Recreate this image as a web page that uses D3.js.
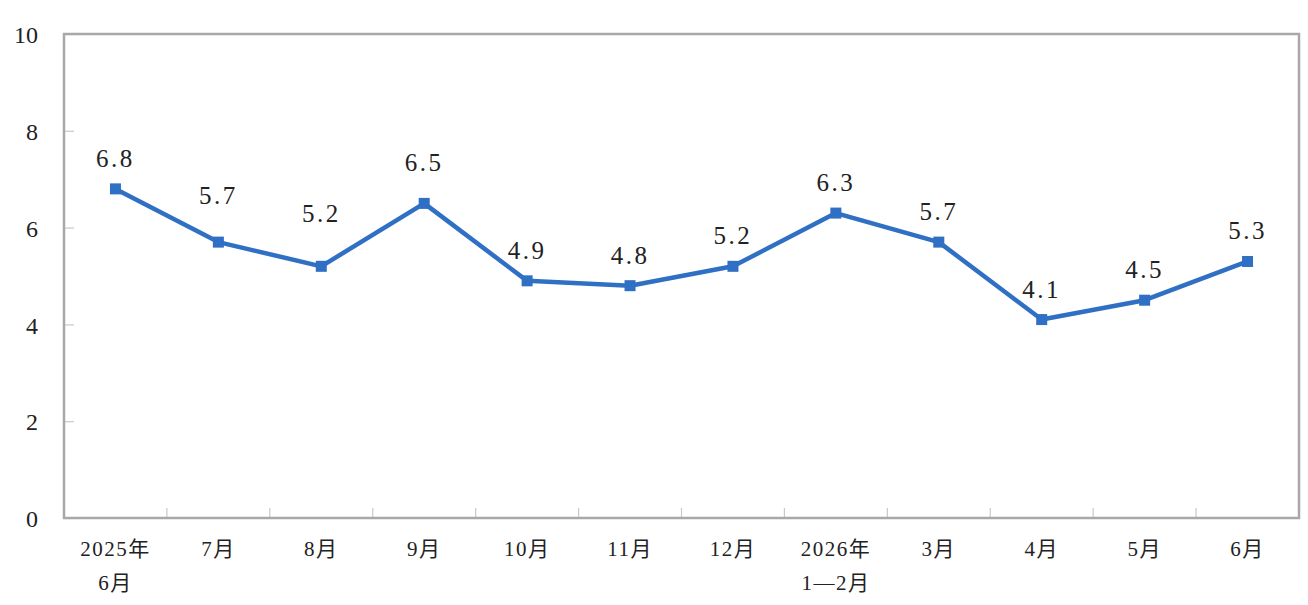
<!DOCTYPE html>
<html>
<head>
<meta charset="utf-8">
<script src="https://cdn.jsdelivr.net/npm/d3@7"></script>
<style>
  body { margin: 0; background: #fff; }
  svg { display: block; }
</style>
</head>
<body>
<div id="chart"></div>
<script>
// Daten
const categories = ["2025年\n6月", "7月", "8月", "9月", "10月", "11月", "12月", "2026年\n1—2月", "3月", "4月", "5月", "6月"];
const values = [6.8, 5.7, 5.2, 6.5, 4.9, 4.8, 5.2, 6.3, 5.7, 4.1, 4.5, 5.3];
const yTicks = [0, 2, 4, 6, 8, 10];

// manuell verschobene Beschriftungen (wie im Original)
const labelNudge = { "7月": -16, "8月": -22, "9月": -10 };

const width = 1308, height = 605;
const margin = { top: 34, right: 9, bottom: 87, left: 64 };

const svg = d3.select("#chart").append("svg")
    .attr("width", width)
    .attr("height", height);

const x = d3.scaleBand()
    .domain(categories)
    .range([margin.left, width - margin.right])
    .padding(0);

const y = d3.scaleLinear()
    .domain([0, 10])
    .range([height - margin.bottom, margin.top]);

const cx = d => x(d) + x.bandwidth() / 2;

const serif = "'Liberation Serif', 'Times New Roman', 'Noto Sans CJK SC', serif";

// Y-Achse
const yAxis = svg.append("g")
    .attr("transform", `translate(${margin.left},0)`)
    .call(d3.axisLeft(y).tickValues(yTicks).tickSize(-10).tickPadding(26));
yAxis.select(".domain").remove();
yAxis.selectAll(".tick line").attr("stroke", "#c8c8c8").attr("stroke-width", 1.2);
yAxis.selectAll(".tick text")
    .attr("font-family", serif)
    .attr("font-size", 24)
    .attr("fill", "#222")
    .attr("dy", "0.36em");

// X-Ticks zwischen Kategorien
svg.append("g")
    .selectAll("line")
    .data(categories.slice(1))
    .join("line")
    .attr("x1", d => x(d))
    .attr("x2", d => x(d))
    .attr("y1", y(0))
    .attr("y2", y(0) - 10)
    .attr("stroke", "#c8c8c8")
    .attr("stroke-width", 1.2);

// Rahmen
svg.append("rect")
    .attr("x", margin.left)
    .attr("y", margin.top)
    .attr("width", width - margin.left - margin.right)
    .attr("height", y(0) - margin.top)
    .attr("fill", "none")
    .attr("stroke", "#a8a8a8")
    .attr("stroke-width", 2.5);

// X-Beschriftungen
const xLabels = svg.append("g")
    .selectAll("text")
    .data(categories)
    .join("text")
    .attr("text-anchor", "middle")
    .attr("font-family", serif)
    .attr("font-size", 21)
    .attr("letter-spacing", 1.5)
    .attr("fill", "#222");
xLabels.selectAll("tspan")
    .data(d => d.split("\n").map(t => ({ t, c: d })))
    .join("tspan")
    .attr("x", d => cx(d.c))
    .attr("y", (d, i) => y(0) + 38 + i * 34)
    .text(d => d.t);

// Linie
const line = d3.line()
    .x((d, i) => cx(categories[i]))
    .y(d => y(d));

svg.append("path")
    .datum(values)
    .attr("d", line)
    .attr("fill", "none")
    .attr("stroke", "#2f6fc4")
    .attr("stroke-width", 4.5)
    .attr("stroke-linejoin", "round");

// Marker
svg.append("g")
    .selectAll("rect")
    .data(values)
    .join("rect")
    .attr("x", (d, i) => cx(categories[i]) - 5.5)
    .attr("y", d => y(d) - 5.5)
    .attr("width", 11)
    .attr("height", 11)
    .attr("fill", "#2f6fc4");

// Werte
svg.append("g")
    .selectAll("text")
    .data(values)
    .join("text")
    .attr("x", (d, i) => cx(categories[i]))
    .attr("y", (d, i) => y(d) - 22 + (labelNudge[categories[i]] || 0))
    .attr("text-anchor", "middle")
    .attr("font-family", serif)
    .attr("font-size", 25)
    .attr("letter-spacing", 2.5)
    .attr("fill", "#222")
    .text(d => d.toFixed(1));
</script>
</body>
</html>
